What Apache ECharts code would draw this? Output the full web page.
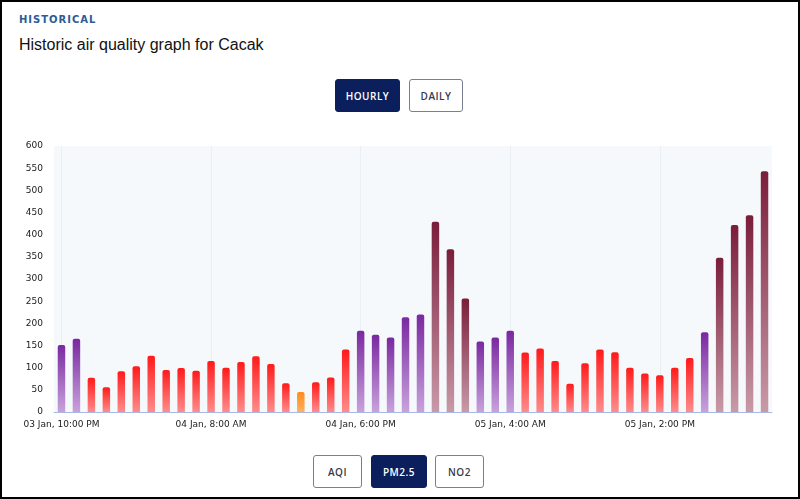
<html>
<head>
    <meta http-equiv="Content-Type" content="text/html; charset=utf-8" />
    <title>Historic air quality graph for Cacak</title>
    <script src="https://cdn.jsdelivr.net/npm/echarts@6/dist/echarts.min.js"></script>
    <style>
        html, body { margin: 0; padding: 0; }
        body { width: 800px; height: 499px; position: relative; overflow: hidden; background: #fff;
               font-family: "Liberation Sans", Arial, sans-serif; }
        #frame { position: absolute; left: 0; top: 0; width: 796px; height: 495px; border: 2px solid #000; }
        .kicker { position: absolute; left: 19px; top: 14px; font-size: 10px; font-weight: bold;
                  letter-spacing: 1px; color: #2d5b94; font-family: "DejaVu Sans", sans-serif; }
        .heading { position: absolute; left: 19px; top: 36px; font-size: 16px; color: #111; }
        .btn { position: absolute; height: 33px; line-height: 33px; text-align: center; box-sizing: border-box;
               border: 1px solid #7a7f8f; border-radius: 3px; background: #fff; color: #3a3a4a;
               font-size: 10px; font-weight: 600; font-family: "Open Sans", sans-serif; letter-spacing: 0.5px; }
        .btn.on { background: #0b1f5c; border-color: #0b1f5c; color: #fff; }
        #main { position: absolute; left: 0; top: 130px; width: 800px; height: 310px; }
    </style>
</head>
<body>
    <div id="frame"></div>
    <div class="kicker">HISTORICAL</div>
    <div class="heading">Historic air quality graph for Cacak</div>
    <div class="btn on" style="left:335px;top:79px;width:65px;">HOURLY</div>
    <div class="btn" style="left:409px;top:79px;width:54px;">DAILY</div>
    <div id="main"></div>
    <div class="btn" style="left:313px;top:455px;width:49px;">AQI</div>
    <div class="btn on" style="left:371px;top:455px;width:56px;">PM2.5</div>
    <div class="btn" style="left:435px;top:455px;width:49px;">NO2</div>

    <script type="text/javascript">
        var hours = [
            '03 Jan, 10:00 PM', '03 Jan, 11:00 PM',
            '04 Jan, 12:00 AM', '04 Jan, 1:00 AM', '04 Jan, 2:00 AM', '04 Jan, 3:00 AM',
            '04 Jan, 4:00 AM', '04 Jan, 5:00 AM', '04 Jan, 6:00 AM', '04 Jan, 7:00 AM',
            '04 Jan, 8:00 AM', '04 Jan, 9:00 AM', '04 Jan, 10:00 AM', '04 Jan, 11:00 AM',
            '04 Jan, 12:00 PM', '04 Jan, 1:00 PM', '04 Jan, 2:00 PM', '04 Jan, 3:00 PM',
            '04 Jan, 4:00 PM', '04 Jan, 5:00 PM', '04 Jan, 6:00 PM', '04 Jan, 7:00 PM',
            '04 Jan, 8:00 PM', '04 Jan, 9:00 PM', '04 Jan, 10:00 PM', '04 Jan, 11:00 PM',
            '05 Jan, 12:00 AM', '05 Jan, 1:00 AM', '05 Jan, 2:00 AM', '05 Jan, 3:00 AM',
            '05 Jan, 4:00 AM', '05 Jan, 5:00 AM', '05 Jan, 6:00 AM', '05 Jan, 7:00 AM',
            '05 Jan, 8:00 AM', '05 Jan, 9:00 AM', '05 Jan, 10:00 AM', '05 Jan, 11:00 AM',
            '05 Jan, 12:00 PM', '05 Jan, 1:00 PM', '05 Jan, 2:00 PM', '05 Jan, 3:00 PM',
            '05 Jan, 4:00 PM', '05 Jan, 5:00 PM', '05 Jan, 6:00 PM', '05 Jan, 7:00 PM',
            '05 Jan, 8:00 PM', '05 Jan, 9:00 PM'
        ];

        var pm25 = [
            151, 165, 77, 56, 92, 103, 127, 95, 99, 93,
            115, 100, 113, 126, 108, 65, 45, 67, 78, 141,
            183, 174, 168, 214, 220, 429, 367, 256, 159, 168,
            183, 134, 143, 115, 64, 110, 141, 135, 100, 87,
            83, 100, 122, 180, 348, 422, 444, 543
        ];

        var yTicks = [0, 50, 100, 150, 200, 250, 300, 350, 400, 450, 500, 550, 600];

        // categories that get a label, tick and faint vertical guide
        var labelled = [0, 10, 20, 30, 40];

        // colour band by pm2.5 level: [upper limit, top colour, bottom colour]
        var bands = [
            [55, '#ff8a1c', '#ffb35c'],
            [150, '#ff1a1a', '#ff8c8c'],
            [250, '#7a28a0', '#c8a2dc'],
            [9999, '#7a1d3b', '#c89aa8']
        ];

        function barColor(v) {
            var b = bands[bands.length - 1];
            for (var i = 0; i < bands.length; i++) {
                if (v < bands[i][0]) { b = bands[i]; break; }
            }
            return new echarts.graphic.LinearGradient(0, 0, 0, 1, [
                { offset: 0, color: b[1] },
                { offset: 1, color: b[2] }
            ]);
        }

        var datas = pm25.map(function (v) {
            return { value: v, itemStyle: { color: barColor(v) } };
        });

        var option = {
            animation: false,
            grid: {
                left: 54,
                right: 28,
                top: 16,
                bottom: 28,
                show: true,
                backgroundColor: '#f5f9fb',
                borderWidth: 0
            },
            xAxis: {
                type: 'category',
                data: hours,
                boundaryGap: true,
                axisLine: { lineStyle: { color: '#a9b9e4', width: 1 } },
                axisTick: { alignWithLabel: true, interval: 9, length: 6, lineStyle: { color: '#a9b9e4' } },
                axisLabel: {
                    interval: 9,
                    color: '#1a1a1a',
                    fontSize: 9,
                    fontFamily: 'DejaVu Sans',
                    margin: 8
                },
                splitLine: { show: false }
            },
            yAxis: {
                type: 'value',
                min: yTicks[0],
                max: yTicks[yTicks.length - 1],
                interval: 50,
                axisLine: { show: false },
                axisTick: { show: false },
                splitLine: { show: false },
                axisLabel: {
                    color: '#1a1a1a',
                    fontSize: 9,
                    fontFamily: 'DejaVu Sans',
                    margin: 11
                }
            },
            series: [{
                type: 'bar',
                barWidth: '50%',
                itemStyle: { borderRadius: [2, 2, 0, 0] },
                data: datas,
                markLine: {
                    silent: true,
                    symbol: 'none',
                    label: { show: false },
                    lineStyle: { color: '#eaeff5', type: 'solid', width: 1 },
                    z: 0,
                    data: labelled.map(function (i) { return { xAxis: i }; })
                }
            }]
        };

        var myChart = echarts.init(document.getElementById('main'));
        myChart.setOption(option);
    </script>
</body>
</html>
